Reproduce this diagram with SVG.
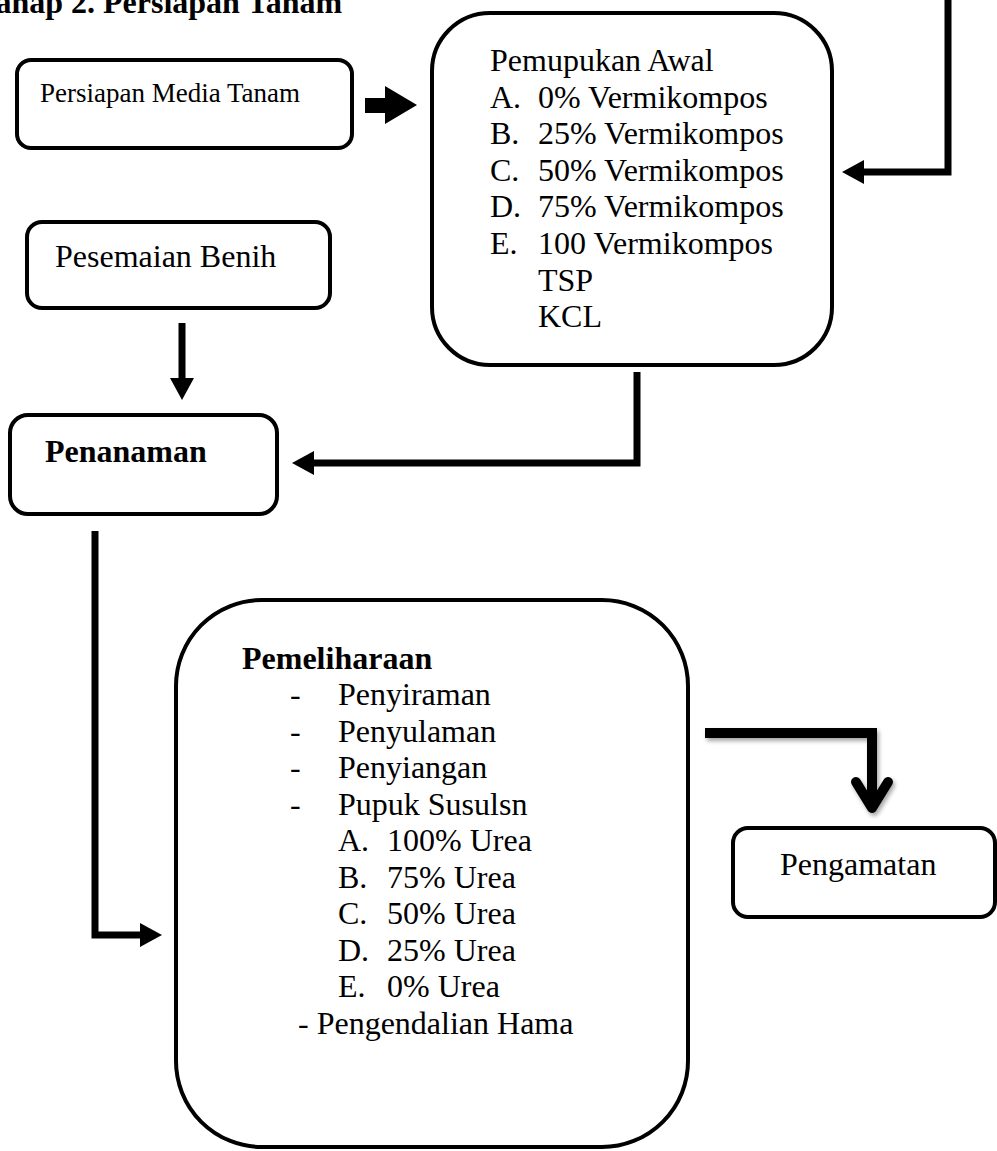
<svg xmlns="http://www.w3.org/2000/svg" width="997" height="1151" viewBox="0 0 997 1151">
<style>
.box{fill:#fff;stroke:#000;stroke-width:4}
.t{font-family:"Liberation Serif","Times New Roman",serif;font-size:32px;fill:#000}
.b{font-weight:bold}
.con{fill:none;stroke:#000;stroke-width:7;stroke-linejoin:miter}
</style>
<defs>
<marker id="ah" markerUnits="userSpaceOnUse" markerWidth="22" markerHeight="24" refX="0" refY="12" orient="auto" viewBox="0 0 22 24"><path d="M0,0 L22,12 L0,24 z" fill="#000"/></marker>
<filter id="sh" x="-10%" y="-30%" width="130%" height="160%"><feDropShadow dx="2" dy="3" stdDeviation="2" flood-color="#000" flood-opacity="0.35"/></filter>
</defs>
<rect width="997" height="1151" fill="#fff"/>
<text class="t b" x="-23" y="13">Tahap 2. Persiapan Tanam</text>

<g id="persiapan">
<rect class="box" x="17" y="60" width="335" height="88" rx="14"/>
<text class="t" x="40" y="102" style="font-size:27px">Persiapan Media Tanam</text>
</g>

<g id="pemupukan">
<rect class="box" x="432" y="13" width="400" height="352" rx="58"/>
<text class="t" x="490" y="71">Pemupukan Awal</text>
<text class="t" x="490" y="107.6">A.</text><text class="t" x="538" y="107.6">0% Vermikompos</text>
<text class="t" x="490" y="144.2">B.</text><text class="t" x="538" y="144.2">25% Vermikompos</text>
<text class="t" x="490" y="180.8">C.</text><text class="t" x="538" y="180.8">50% Vermikompos</text>
<text class="t" x="490" y="217.4">D.</text><text class="t" x="538" y="217.4">75% Vermikompos</text>
<text class="t" x="490" y="254">E.</text><text class="t" x="538" y="254">100 Vermikompos</text>
<text class="t" x="538" y="290.6">TSP</text>
<text class="t" x="538" y="327.2">KCL</text>
</g>

<g id="pesemaian">
<rect class="box" x="27" y="222" width="303" height="86" rx="15"/>
<text class="t" x="55" y="267">Pesemaian Benih</text>
</g>

<g id="penanaman">
<rect class="box" x="10" y="415" width="267" height="99" rx="18"/>
<text class="t b" x="45" y="462">Penanaman</text>
</g>

<g id="pemeliharaan">
<rect class="box" x="176" y="600" width="512" height="547" rx="86"/>
<text class="t b" x="242" y="669">Pemeliharaan</text>
<text class="t" x="290" y="705">-</text><text class="t" x="338" y="705">Penyiraman</text>
<text class="t" x="290" y="741.5">-</text><text class="t" x="338" y="741.5">Penyulaman</text>
<text class="t" x="290" y="778">-</text><text class="t" x="338" y="778">Penyiangan</text>
<text class="t" x="290" y="814.5">-</text><text class="t" x="338" y="814.5">Pupuk Susulsn</text>
<text class="t" x="338" y="851">A.</text><text class="t" x="387" y="851">100% Urea</text>
<text class="t" x="338" y="887.5">B.</text><text class="t" x="387" y="887.5">75% Urea</text>
<text class="t" x="338" y="924">C.</text><text class="t" x="387" y="924">50% Urea</text>
<text class="t" x="338" y="960.5">D.</text><text class="t" x="387" y="960.5">25% Urea</text>
<text class="t" x="338" y="997">E.</text><text class="t" x="387" y="997">0% Urea</text>
<text class="t" x="298" y="1033.5">- Pengendalian Hama</text>
</g>

<g id="pengamatan">
<rect class="box" x="733" y="828" width="262" height="89" rx="15"/>
<text class="t" x="780" y="875">Pengamatan</text>
</g>

<g id="connectors">
<polygon points="365,98 385,98 385,86 417,105 385,124 385,113 365,113" fill="#000"/>
<path class="con" d="M948,0 V172 H864" marker-end="url(#ah)"/>
<path class="con" d="M182,323 V378" marker-end="url(#ah)"/>
<path class="con" d="M637,372 V463 H314" marker-end="url(#ah)"/>
<path class="con" d="M95,531 V935 H140" marker-end="url(#ah)"/>
<g filter="url(#sh)">
<path d="M705,733 H872 V806" fill="none" stroke="#000" stroke-width="10" stroke-linejoin="miter"/>
<polyline points="856,782 872,808 888,782" fill="none" stroke="#000" stroke-width="10" stroke-linecap="round" stroke-linejoin="round"/>
</g>
</g>
</svg>
